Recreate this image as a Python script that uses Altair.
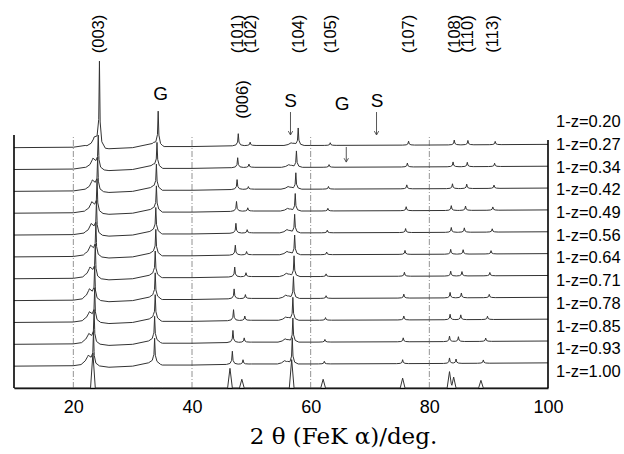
import altair as alt
import numpy as np
import pandas as pd

# ---------------- data ----------------
labels = ["1-z=0.20", "1-z=0.27", "1-z=0.34", "1-z=0.42", "1-z=0.49", "1-z=0.56",
          "1-z=0.64", "1-z=0.71", "1-z=0.78", "1-z=0.85", "1-z=0.93", "1-z=1.00"]

# peak positions (2theta, deg) and heights (in units of trace spacing), top trace first
pos_sh003 = [23.5, 23.3, 23.2, 23.1, 23.0, 22.9, 22.8, 22.7, 22.7, 22.6, 22.5, 22.4]
h_sh003 = [0.4, 0.45, 0.45, 0.45, 0.45, 0.45, 0.45, 0.45, 0.4, 0.4, 0.4, 0.0]
pos_003 = [24.4, 24.2, 24.1, 24.0, 23.9, 23.8, 23.7, 23.6, 23.6, 23.5, 23.4, 23.3]
h_003 = [3.9, 1.5, 1.5, 1.5, 1.5, 1.5, 1.5, 1.5, 1.5, 1.5, 1.5, 1.6]
pos_g = [34.3, 34.1, 34.0, 34.0, 33.9, 33.9, 33.8, 33.8, 33.8, 33.7, 33.7, 33.7]
h_g = [1.55, 1.1, 1.1, 1.1, 1.1, 1.1, 1.1, 1.1, 1.1, 1.1, 1.1, 0.0]
pos_101 = [47.8, 47.7, 47.6, 47.5, 47.4, 47.3, 47.2, 47.1, 47.0, 46.9, 46.8, 46.4]
h_101 = [0.55, 0.45, 0.45, 0.45, 0.45, 0.45, 0.45, 0.45, 0.5, 0.55, 0.6, 0.9]
pos_006 = [49.8, 49.6, 49.5, 49.4, 49.3, 49.2, 49.1, 49.0, 48.9, 48.8, 48.6, 48.4]
h_006 = [0.15, 0.15, 0.12, 0.15, 0.15, 0.15, 0.18, 0.18, 0.2, 0.2, 0.2, 0.4]
pos_sh104 = [56.7, 56.3, 56.2, 56.1, 56.0, 56.0, 55.9, 55.8, 55.8, 55.7, 55.6, 55.6]
h_sh104 = [0.12, 0.12, 0.12, 0.12, 0.15, 0.15, 0.15, 0.15, 0.15, 0.15, 0.15, 0.0]
pos_104 = [57.9, 57.6, 57.5, 57.4, 57.3, 57.3, 57.2, 57.1, 57.0, 57.0, 56.9, 56.8]
h_104 = [0.8, 0.75, 0.75, 0.8, 0.85, 0.9, 0.95, 1.0, 1.05, 1.1, 1.2, 1.3]
pos_105 = [63.3, 63.1, 63.0, 62.9, 62.8, 62.7, 62.6, 62.6, 62.5, 62.4, 62.3, 62.1]
h_105 = [0.12, 0.12, 0.12, 0.12, 0.12, 0.12, 0.12, 0.12, 0.12, 0.12, 0.12, 0.4]
pos_107 = [76.5, 76.3, 76.2, 76.1, 76.0, 75.9, 75.8, 75.7, 75.7, 75.6, 75.5, 75.5]
h_107 = [0.18, 0.18, 0.18, 0.18, 0.18, 0.18, 0.18, 0.18, 0.18, 0.18, 0.18, 0.45]
pos_108 = [84.2, 84.0, 83.9, 83.7, 83.7, 83.6, 83.6, 83.5, 83.5, 83.4, 83.4, 83.4]
h_108 = [0.22, 0.22, 0.22, 0.22, 0.22, 0.22, 0.22, 0.25, 0.25, 0.25, 0.25, 0.75]
pos_110 = [86.5, 86.4, 86.3, 86.1, 85.9, 85.7, 85.5, 85.4, 85.3, 84.9, 84.5, 84.1]
h_110 = [0.2, 0.2, 0.2, 0.2, 0.2, 0.2, 0.2, 0.22, 0.22, 0.22, 0.2, 0.5]
pos_113 = [91.1, 91.0, 90.9, 90.7, 90.6, 90.4, 90.2, 90.1, 89.8, 89.5, 89.1, 88.7]
h_113 = [0.15, 0.15, 0.15, 0.15, 0.15, 0.15, 0.15, 0.15, 0.15, 0.15, 0.15, 0.35]

# diffuse background of the measured traces (trace-spacing units)
bg_x = [10, 20, 22, 26, 30, 33.5, 35, 40, 50, 60, 80, 100]
bg_y = [0.0, 0.02, 0.1, -0.05, 0.0, 0.2, 0.05, 0.05, 0.1, 0.1, 0.12, 0.15]
measured = [1, 1, 1, 1, 1, 1, 1, 1, 1, 1, 1, 0]   # last one is a calculated pattern

# annotations
hkl_text = ["(003)", "(101)", "(102)", "(006)", "(104)", "(105)", "(107)", "(108)", "(110)", "(113)"]
hkl_x = [24.4, 47.8, 50.0, 48.6, 58.0, 63.5, 76.6, 84.3, 86.5, 90.7]
hkl_y = [16.2, 16.2, 16.2, 13.2, 16.2, 16.2, 16.2, 16.2, 16.2, 16.2]
phase_text = ["G", "S", "G", "S"]
phase_x = [34.7, 56.6, 65.3, 71.2]
phase_y = [13.45, 13.15, 13.0, 13.15]
arrow_x = [56.6, 71.1, 66.0]
arrow_top = [12.63, 12.63, 11.03]
arrow_bot = [11.58, 11.58, 10.34]
grid_x = [20, 40, 60, 80]
tick_values = [20, 40, 60, 80, 100]

# ---------------- build the traces ----------------
# (positions, heights, broad shoulder?)
peaks = [(pos_sh003, h_sh003, True), (pos_003, h_003, False), (pos_g, h_g, False),
         (pos_101, h_101, False), (pos_006, h_006, False), (pos_sh104, h_sh104, True),
         (pos_104, h_104, False), (pos_105, h_105, False), (pos_107, h_107, False),
         (pos_108, h_108, False), (pos_110, h_110, False), (pos_113, h_113, False)]
sharp = (np.array([-1.0, -0.4, -0.12, 0.0, 0.12, 0.4, 1.0]),
         np.array([0.0, 0.07, 0.3, 1.0, 0.3, 0.07, 0.0]))
broad = (np.array([-1.2, -0.5, 0.0, 0.5, 1.0]),
         np.array([0.0, 0.35, 1.0, 0.6, 0.0]))
calc = (np.array([-0.4, 0.0, 0.4]), np.array([0.0, 1.0, 0.0]))

n = len(labels)
rows = []
for k, lab in enumerate(labels):
    base = n - 1 - k
    xs = set(float(v) for v in bg_x)
    shapes = []
    for p, h, is_broad in peaks:
        if h[k] > 0:
            off, frac = (broad if is_broad else sharp) if measured[k] else calc
            shapes.append((p[k] + off, h[k] * frac))
            xs.update(float(v) for v in p[k] + off)
    xs = np.array(sorted(v for v in xs if 10 <= v <= 100))
    ys = np.interp(xs, bg_x, bg_y) * measured[k]
    for px, py in shapes:
        ys = ys + np.interp(xs, px, py, left=0.0, right=0.0)
    for i, (a, b) in enumerate(zip(xs, ys)):
        rows.append({"trace": lab, "x": float(a), "y": float(base + b), "i": i})
traces = pd.DataFrame(rows)

label_df = pd.DataFrame({
    "label": labels,
    "x": [100.0] * n,
    "y": [0.73 + 1.04 * (n - 1 - k) for k in range(n)],
})
hkl_df = pd.DataFrame({"t": hkl_text, "x": hkl_x, "y": hkl_y})
phase_df = pd.DataFrame({"t": phase_text, "x": phase_x, "y": phase_y})
arrow_df = pd.DataFrame({"x": arrow_x, "y": arrow_top, "y2": arrow_bot})
grid_df = pd.DataFrame({"x": grid_x, "y": [0.0] * 4, "y2": [11.55] * 4})
border_df = pd.DataFrame({"x": [10.0, 100.0], "y": [0.0, 0.0], "y2": [11.58, 11.35]})

# ---------------- chart ----------------
x_axis = alt.Axis(values=tick_values, title="2 θ (FeK α)/deg.", grid=False, ticks=False,
                  domainColor="black", domainWidth=1.6, labelFont="Liberation Sans",
                  labelFontSize=18, labelColor="black", labelPadding=10, labelFlush=False,
                  titleFont="DejaVu Serif", titleFontSize=23, titleFontWeight="normal",
                  titleColor="black", titleX=329, titleY=48, titleBaseline="middle",
                  titleAlign="center")
xs_scale = alt.Scale(domain=[10, 100], nice=False, zero=False)
ys_scale = alt.Scale(domain=[0, 17.757], nice=False, zero=False)


def X(field="x"):
    return alt.X(f"{field}:Q", scale=xs_scale, axis=x_axis)


def Y(field="y"):
    return alt.Y(f"{field}:Q", scale=ys_scale, axis=None)


grid = alt.Chart(grid_df).mark_rule(color="#777777", strokeWidth=0.8,
                                    strokeDash=[6, 2, 1, 2]).encode(
    x=X(), y=Y(), y2="y2:Q")
borders = alt.Chart(border_df).mark_rule(color="black", strokeWidth=1.6).encode(
    x=X(), y=Y(), y2="y2:Q")
lines = alt.Chart(traces).mark_line(color="#333333", strokeWidth=1.0).encode(
    x=X(), y=Y(), detail="trace:N", order="i:Q")
right_labels = alt.Chart(label_df).mark_text(
    align="left", baseline="middle", dx=8, font="Liberation Sans", fontSize=16.5,
    color="black").encode(x=X(), y=Y(), text="label:N")
hkl = alt.Chart(hkl_df).mark_text(
    angle=270, align="center", baseline="middle", font="Liberation Sans", fontSize=16.5,
    color="black").encode(x=X(), y=Y(), text="t:N")
phase = alt.Chart(phase_df).mark_text(
    align="center", baseline="middle", font="Liberation Sans", fontSize=19,
    color="black").encode(x=X(), y=Y(), text="t:N")
arrows = alt.Chart(arrow_df).mark_rule(color="#444444", strokeWidth=0.9).encode(
    x=X(), y=Y(), y2="y2:Q")
heads = alt.Chart(arrow_df).mark_point(
    shape="M -0.8 -1.4 L 0 0 L 0.8 -1.4", filled=False, color="#444444",
    strokeWidth=0.9, size=30, opacity=1).encode(x=X(), y=Y("y2"))

chart = alt.layer(grid, lines, borders, right_labels, hkl, phase, arrows, heads).properties(
    width=534, height=388,
    padding={"left": 14, "top": 0, "right": 76, "bottom": 66},
    autosize="none",
    background="white",
).configure_view(stroke=None)

chart.save("out.html", embed_options={"renderer": "svg", "actions": False})
